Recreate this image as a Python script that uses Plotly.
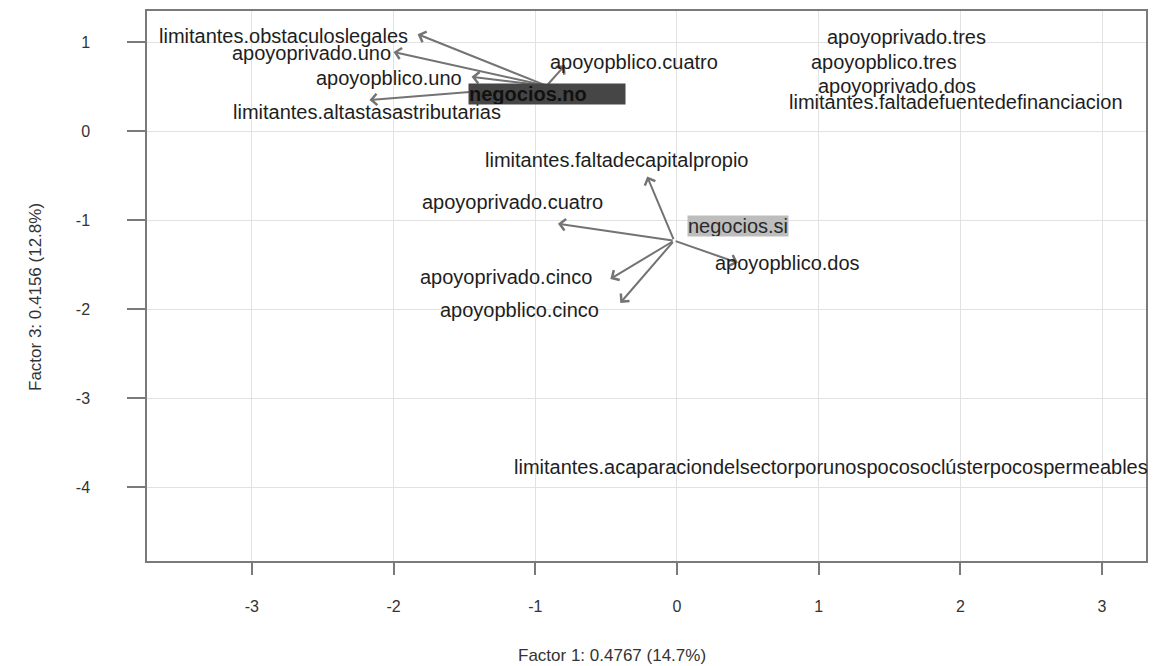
import plotly.graph_objects as go

# Category labels and their coordinates on factors 1 and 3
etiquetas = [
    "limitantes.obstaculoslegales",
    "apoyoprivado.uno",
    "apoyopblico.uno",
    "limitantes.altastasastributarias",
    "apoyopblico.cuatro",
    "apoyoprivado.tres",
    "apoyopblico.tres",
    "apoyoprivado.dos",
    "limitantes.faltadefuentedefinanciacion",
    "limitantes.faltadecapitalpropio",
    "apoyoprivado.cuatro",
    "apoyopblico.dos",
    "apoyoprivado.cinco",
    "apoyopblico.cinco",
    "limitantes.acaparaciondelsectorporunospocosoclústerpocospermeables",
]
etiqueta_x = [-2.78, -2.58, -2.03, -2.19, -0.30, 1.62, 1.46, 1.55, 1.97,
              -0.42, -1.16, 0.78, -1.21, -1.11, 1.09]
etiqueta_y = [1.07, 0.88, 0.60, 0.22, 0.78, 1.06, 0.78, 0.51, 0.33,
              -0.32, -0.80, -1.48, -1.64, -2.01, -3.77]

# Supplementary categories: arrow origins
origen_nombres = ["negocios.no", "negocios.si"]
origen_x = [-0.92, -0.02]
origen_y = [0.51, -1.23]
caja_x = [-0.92, 0.43]
caja_y = [0.42, -1.07]

# Arrow tips, with the index of the origin they start from
flecha_origen = [0, 0, 0, 0, 0, 1, 1, 1, 1, 1]
flecha_x = [-1.83, -2.00, -1.45, -2.17, -0.79, -0.21, -0.84, -0.47, -0.40, 0.43]
flecha_y = [1.09, 0.89, 0.61, 0.35, 0.74, -0.51, -1.04, -1.66, -1.93, -1.48]

# Axis ticks and titles
ticks_x = [-3, -2, -1, 0, 1, 2, 3]
ticks_y = [1, 0, -1, -2, -3, -4]
titulo_x = "Factor 1: 0.4767 (14.7%)"
titulo_y = "Factor 3: 0.4156 (12.8%)"

FUENTE = "Liberation Sans, Arial, sans-serif"
TAM = 20

fig = go.Figure()
# invisible trace so the axes exist
fig.add_trace(go.Scatter(x=etiqueta_x, y=etiqueta_y, mode="markers",
                         marker=dict(opacity=0), hoverinfo="skip", showlegend=False))

anotaciones = []
for o, hx, hy in zip(flecha_origen, flecha_x, flecha_y):
    anotaciones.append(dict(
        x=hx, y=hy, ax=origen_x[o], ay=origen_y[o],
        xref="x", yref="y", axref="x", ayref="y",
        text="", showarrow=True, arrowhead=4, arrowsize=1.1,
        arrowwidth=2, arrowcolor="#737373", standoff=0, startstandoff=0,
    ))

for t, x, y in zip(etiquetas, etiqueta_x, etiqueta_y):
    anotaciones.append(dict(
        x=x, y=y, xref="x", yref="y", text=t, showarrow=False,
        xanchor="center", yanchor="middle",
        font=dict(family=FUENTE, size=TAM, color="#1e1e1e"),
    ))

# boxed labels for the supplementary categories
anotaciones.append(dict(
    x=caja_x[0], y=caja_y[0], xref="x", yref="y",
    text="<b>" + origen_nombres[0] + "</b>", showarrow=False,
    xanchor="center", yanchor="middle", width=156, height=20, align="left",
    bgcolor="#464646", borderpad=0,
    font=dict(family=FUENTE, size=TAM, color="#111111"),
))
anotaciones.append(dict(
    x=caja_x[1], y=caja_y[1], xref="x", yref="y",
    text=origen_nombres[1], showarrow=False,
    xanchor="center", yanchor="middle", height=20,
    bgcolor="#bdbdbd", borderpad=0,
    font=dict(family=FUENTE, size=TAM, color="#2a2a2a"),
))

# axis titles
anotaciones.append(dict(
    x=0.4655, y=0, xref="paper", yref="paper", yshift=-94,
    text=titulo_x, showarrow=False, xanchor="center", yanchor="middle",
    font=dict(family=FUENTE, size=17, color="#333333"),
))
anotaciones.append(dict(
    x=0, y=0.48, xref="paper", yref="paper", xshift=-112,
    text=titulo_y, showarrow=False, textangle=-90,
    xanchor="center", yanchor="middle",
    font=dict(family=FUENTE, size=17, color="#333333"),
))

fig.update_layout(
    width=1171, height=666,
    margin=dict(l=147, r=25, t=9, b=105),
    paper_bgcolor="white", plot_bgcolor="white",
    annotations=anotaciones,
    showlegend=False,
)
fig.update_xaxes(
    range=[-3.74, 3.31], tickvals=ticks_x, ticktext=[str(v) for v in ticks_x],
    showgrid=True, gridcolor="#e2e2e2", gridwidth=1, zeroline=False,
    showline=True, mirror=True, linecolor="#7a7a7a", linewidth=1.5,
    ticks="outside", ticklen=12, tickcolor="#7a7a7a", tickwidth=1.5,
    ticklabelstandoff=18,
    tickfont=dict(family=FUENTE, size=16, color="#333333"),
)
fig.update_yaxes(
    range=[-4.83, 1.35], tickvals=ticks_y, ticktext=[str(v) for v in ticks_y],
    showgrid=True, gridcolor="#e2e2e2", gridwidth=1, zeroline=False,
    showline=True, mirror=True, linecolor="#7a7a7a", linewidth=1.5,
    ticks="outside", ticklen=18, tickcolor="#7a7a7a", tickwidth=1.5,
    ticklabelstandoff=34,
    tickfont=dict(family=FUENTE, size=16, color="#333333"),
)

fig.write_html("out.html")
